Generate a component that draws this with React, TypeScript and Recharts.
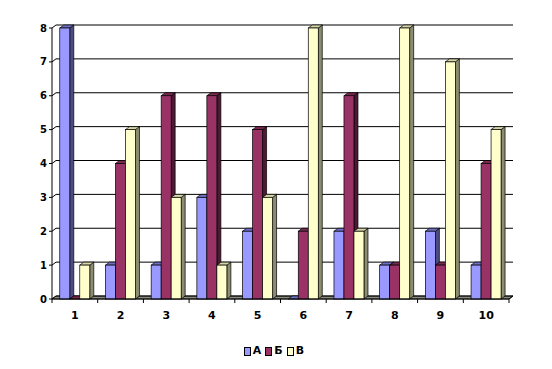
import React from "react";
import { BarChart, Bar, XAxis, YAxis, CartesianGrid } from "recharts";

const categories = ["1", "2", "3", "4", "5", "6", "7", "8", "9", "10"];
const seriesA = [8, 1, 1, 3, 2, 0, 2, 1, 2, 1];
const seriesB = [0, 4, 6, 6, 5, 2, 6, 1, 1, 4];
const seriesV = [1, 5, 3, 1, 3, 8, 2, 8, 7, 5];
const yTicks = [0, 1, 2, 3, 4, 5, 6, 7, 8];

const data = categories.map((c, i) => ({ cat: c, A: seriesA[i], B: seriesB[i], V: seriesV[i] }));

const W = 552;
const H = 369;
const X_AXIS_H = 30;
const M = { top: 28, right: 43, bottom: 70 - X_AXIS_H, left: 12 };
const Y_AXIS_W = 40;
const PLOT_LEFT = M.left + Y_AXIS_W;
const PLOT_BOTTOM = H - M.bottom - X_AXIS_H;
const HALF_BAND = (W - PLOT_LEFT - M.right) / categories.length / 2;
const DX = 4;
const DY = 3;
const FONT = "'DejaVu Sans', sans-serif";

const series = [
  { key: "A", name: "А", front: "#9999FF", top: "#7070C8", side: "#4C4C80" },
  { key: "B", name: "Б", front: "#993366", top: "#7A2850", side: "#4D1A33" },
  { key: "V", name: "В", front: "#FFFFCC", top: "#D6D6A8", side: "#8C8C70" },
];

// front face + top + right side, drawn like the old excel 3d columns
const bar3d = (s: typeof series[number]) => (props: any) => {
  const { x, y, width, height } = props;
  const h = Math.max(0, height || 0);
  const x2 = x + width;
  const yb = y + h;
  return (
    <g>
      {h > 0 && (
        <polygon
          points={`${x2},${y} ${x2 + DX},${y - DY} ${x2 + DX},${yb - DY} ${x2},${yb}`}
          fill={s.side}
          stroke="#000"
          strokeWidth={0.7}
        />
      )}
      <polygon
        points={`${x},${y} ${x + DX},${y - DY} ${x2 + DX},${y - DY} ${x2},${y}`}
        fill={s.top}
        stroke="#000"
        strokeWidth={0.7}
      />
      {h > 0 && <rect x={x} y={y} width={width} height={h} fill={s.front} stroke="#000" strokeWidth={0.7} />}
    </g>
  );
};

const gridLine = (p: any) => {
  const { x1, x2, y1 } = p;
  const isFloor = Math.abs(y1 - PLOT_BOTTOM) < 1;
  return (
    <g key={p.key}>
      {isFloor && (
        <polygon
          points={`${x1},${y1} ${x2},${y1} ${x2 + DX},${y1 - DY} ${x1 + DX},${y1 - DY}`}
          fill="#8A8A80"
          stroke="#000"
          strokeWidth={0.7}
        />
      )}
      <polyline
        points={`${x1},${y1} ${x1 + DX},${y1 - DY} ${x2 + DX},${y1 - DY}`}
        fill="none"
        stroke="#000"
        strokeWidth={1}
      />
    </g>
  );
};

const XTick = (props: any) => {
  const { x, payload, index } = props;
  const ay = PLOT_BOTTOM;
  return (
    <g>
      <line x1={x - HALF_BAND} y1={ay} x2={x - HALF_BAND} y2={ay + 4} stroke="#000" />
      {index === categories.length - 1 && (
        <>
          <line x1={x + HALF_BAND} y1={ay} x2={x + HALF_BAND} y2={ay + 4} stroke="#000" />
          <line x1={x + HALF_BAND} y1={ay} x2={x + HALF_BAND + DX} y2={ay - DY} stroke="#000" />
        </>
      )}
      <text x={x} y={ay + 20} textAnchor="middle" fontFamily={FONT} fontWeight="bold" fontSize={11} fill="#000">
        {payload.value}
      </text>
    </g>
  );
};

const LegendBox = () => (
  <div
    style={{
      position: "absolute",
      left: 0,
      top: 345,
      width: W,
      display: "flex",
      justifyContent: "center",
      alignItems: "center",
      fontFamily: FONT,
      fontWeight: "bold",
      fontSize: 11,
      lineHeight: "12px",
    }}
  >
    {series.map((s) => (
      <span key={s.key} style={{ display: "flex", alignItems: "center", marginRight: 4 }}>
        <span style={{ width: 5, height: 7, background: s.front, border: "1px solid #000", marginRight: 2 }} />
        {s.name}
      </span>
    ))}
  </div>
);

export default function App() {
  return (
    <div style={{ position: "absolute", left: 0, top: 0, width: W, height: H, background: "#fff" }}>
      <BarChart width={W} height={H} data={data} margin={M} barCategoryGap="17%" barGap={0}>
        <CartesianGrid vertical={false} horizontal={gridLine} />
        <XAxis
          dataKey="cat"
          height={X_AXIS_H}
          axisLine={{ stroke: "#000" }}
          tickLine={false}
          tick={<XTick />}
          interval={0}
        />
        <YAxis
          width={Y_AXIS_W}
          domain={[0, 8]}
          ticks={yTicks}
          interval={0}
          axisLine={{ stroke: "#000" }}
          tickLine={{ stroke: "#000" }}
          tickSize={3}
          tick={{ fill: "#000", fontFamily: FONT, fontWeight: "bold", fontSize: 10 }}
        />
        {series.map((s) => (
          <Bar key={s.key} dataKey={s.key} name={s.name} shape={bar3d(s)} isAnimationActive={false} />
        ))}
      </BarChart>
      <LegendBox />
    </div>
  );
}
